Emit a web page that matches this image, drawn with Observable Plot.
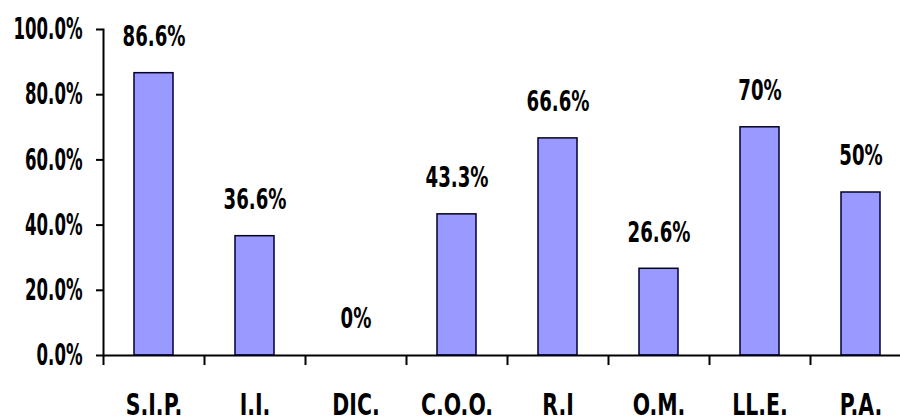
<!DOCTYPE html>
<html><head><meta charset="utf-8">
<script src="https://cdn.jsdelivr.net/npm/d3@7"></script>
<script src="https://cdn.jsdelivr.net/npm/@observablehq/plot@0.6"></script>
<style>body{margin:0;background:#fff} svg{display:block}</style>
</head><body><div id="chart"></div>
<script>
const categories = ["S.I.P.", "I.I.", "DIC.", "C.O.O.", "R.I", "O.M.", "LL.E.", "P.A."];
const values = [86.6, 36.6, 0, 43.3, 66.6, 26.6, 70, 50];
const valueLabels = ["86.6%", "36.6%", "0%", "43.3%", "66.6%", "26.6%", "70%", "50%"];
const yTicks = [0, 20, 40, 60, 80, 100];

const data = categories.map((c, i) => ({cat: c, value: values[i], label: valueLabels[i]}));

const W = 900, H = 419, padL = 103, padR = 911, padT = 29, padB = 355;
const step = (padR - padL) / categories.length;
const FONT = "'Liberation Sans Narrow','Arial Narrow','DejaVu Sans Condensed',sans-serif";

const chart = Plot.plot({
  width: W, height: H,
  marginLeft: padL, marginRight: 0, marginTop: padT, marginBottom: H - padB,
  style: {fontFamily: FONT, fontWeight: "bold", background: "#fff", color: "#000", overflow: "hidden"},
  x: {domain: categories, range: [padL, padR], paddingInner: 0.61, paddingOuter: 0.305},
  y: {domain: [0, 100]},
  marks: [
    Plot.barY(data, {x: "cat", y: "value", fill: "#9999ff", stroke: "#000033", strokeWidth: 1.5}),
    Plot.frame({anchor: "left", stroke: "#000", strokeWidth: 2}),
    Plot.ruleY([0], {stroke: "#000", strokeWidth: 2}),
    Plot.axisY({ticks: yTicks, tickFormat: d => d.toFixed(1) + "%", tickSize: 7, tickPadding: 14,
      fontSize: 30, label: null, stroke: "#000", strokeWidth: 2}),
    Plot.axisX({ticks: categories, tickSize: 10, tickFormat: () => "", dx: -step / 2,
      label: null, stroke: "#000", strokeWidth: 2}),
    Plot.axisX({ticks: categories, tickSize: 0, tickPadding: 37, fontSize: 31, label: null}),
    Plot.text(data, {x: "cat", y: "value", text: "label", dy: -36, fontSize: 28})
  ]
});
document.getElementById("chart").appendChild(chart);

// horizontally condense text to mimic the narrow original typeface
const ctx = document.createElement("canvas").getContext("2d");
function fitScale(sample, size, target) {
  ctx.font = `bold ${size}px ${FONT}`;
  return target / ctx.measureText(sample).width;
}
function condense(selector, s) {
  d3.select(chart).selectAll(selector).each(function () {
    const el = d3.select(this);
    const t = el.attr("transform");
    if (t) el.attr("transform", t + ` scale(${s},1)`);
    else {
      const x = +el.attr("x") || 0, y = +el.attr("y") || 0;
      el.attr("transform", `translate(${x},${y}) scale(${s},1) translate(${-x},${-y})`);
    }
  });
}
condense('g[aria-label="y-axis tick label"] text', fitScale("100.0%", 30, 69));
condense('g[aria-label="x-axis tick label"] text', fitScale("C.O.O.", 31, 72));
condense('g[aria-label="text"] text', fitScale("86.6%", 28, 63));
</script>
</body></html>
